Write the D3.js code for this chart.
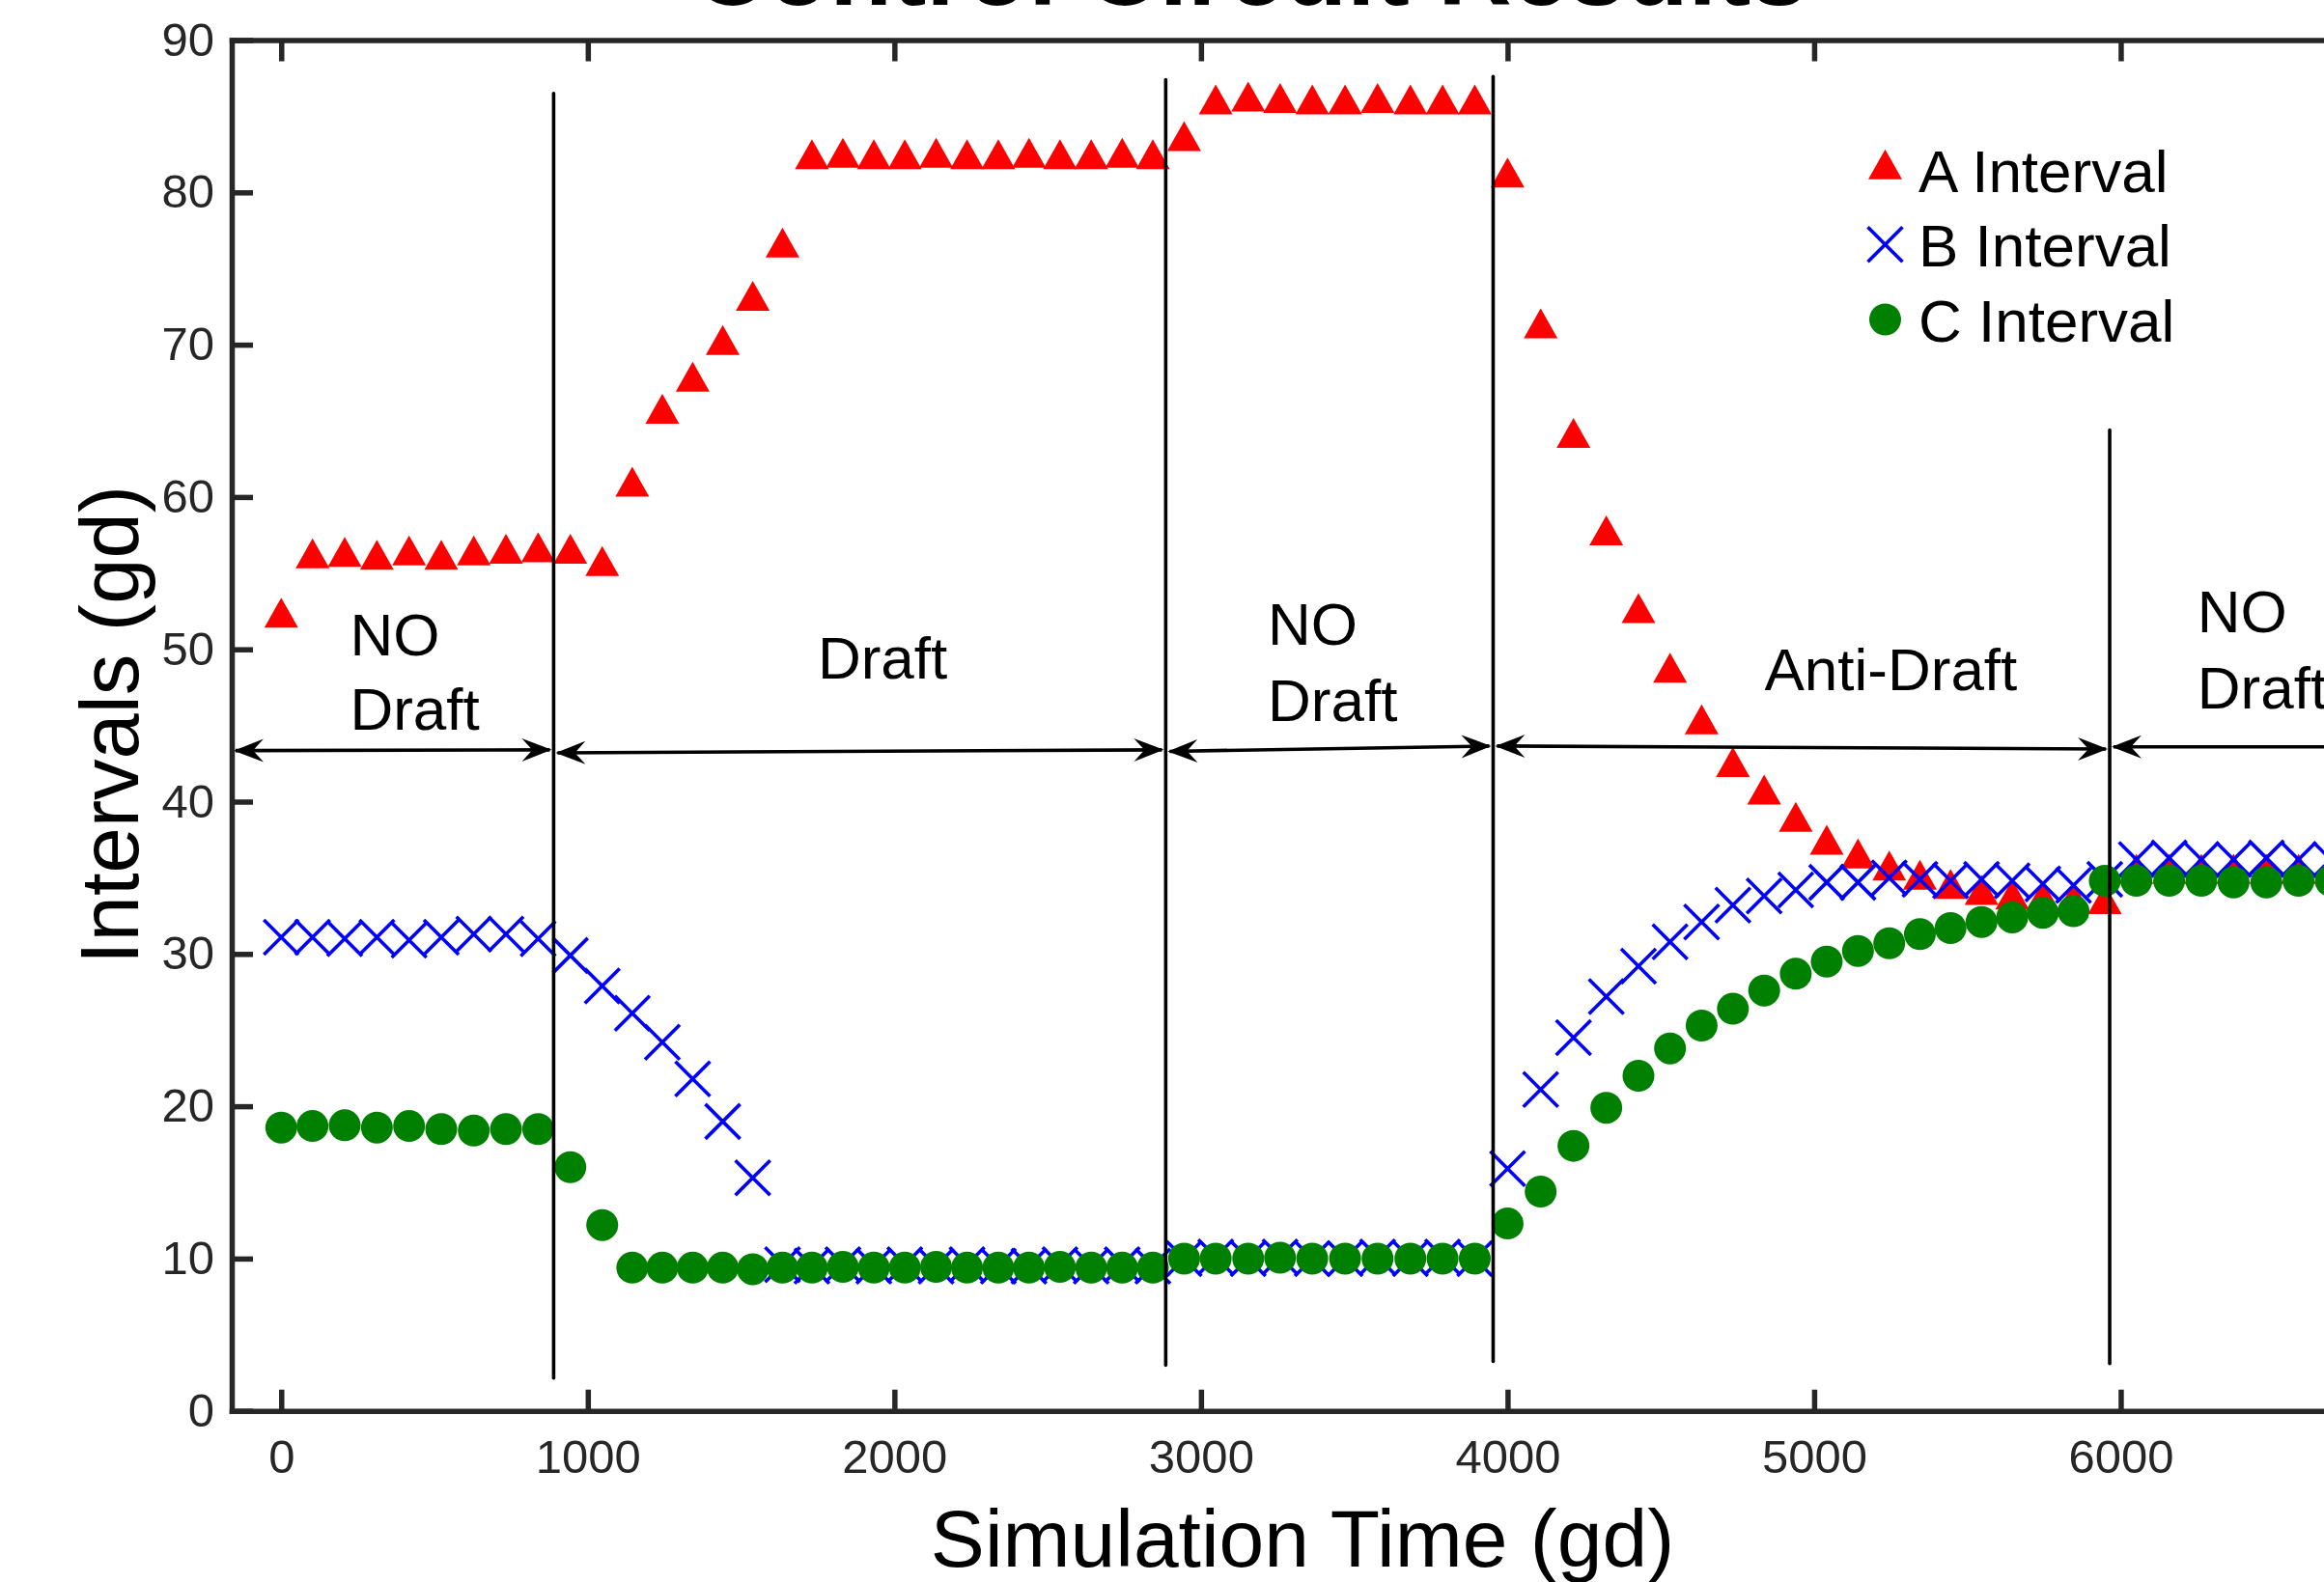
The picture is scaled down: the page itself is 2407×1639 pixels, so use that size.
<!DOCTYPE html>
<html>
<head>
<meta charset="utf-8">
<script src="https://cdn.jsdelivr.net/npm/d3@7"></script>
<style>
  html, body { margin: 0; padding: 0; background: #fff; }
  svg { display: block; }
  text { font-family: "Liberation Sans", Arial, Helvetica, sans-serif; }
</style>
</head>
<body>
<svg id="chart" width="2407" height="1639"></svg>
<script>
// ---------------- data ----------------
const times = [0,102,207,312,417,522,628,733,838,943,1047,1145,1243,1342,1440,1538,1635,1731,1832,1933,
  2034,2136,2237,2339,2439,2540,2642,2743,2843,2945,3048,3154,3258,3363,3470,3576,3683,3788,3893,4000,
  4108,4215,4322,4427,4530,4633,4735,4837,4940,5041,5143,5245,5345,5445,5546,5646,5746,5846,5948,6051,
  6158,6263,6368,6475,6580,6685];

const seriesA = [52.4,56.3,56.4,56.2,56.5,56.2,56.5,56.6,56.7,56.6,55.8,61.0,65.8,67.9,70.3,73.2,76.7,
  82.5,82.6,82.5,82.5,82.6,82.5,82.5,82.6,82.5,82.5,82.6,82.5,83.7,86.1,86.3,86.2,86.1,86.1,86.2,86.1,86.1,86.1,
  81.3,71.4,64.2,57.8,52.7,48.8,45.4,42.6,40.8,39.0,37.5,36.6,35.8,35.2,34.6,34.2,33.9,33.8,33.7,33.6,
  35.6,35.6,35.6,35.6,35.6,35.6,35.6];

const seriesB = [31.1,31.1,31.0,31.1,30.9,31.1,31.3,31.3,31.0,29.9,27.9,26.1,24.2,21.8,19.0,15.3,
  9.6,9.5,9.6,9.5,9.6,9.5,9.6,9.5,9.5,9.6,9.5,9.6,9.5,
  10.0,10.1,10.0,10.1,10.0,10.0,10.1,10.0,10.1,10.0,
  15.9,21.1,24.5,27.2,29.2,30.8,32.1,33.2,33.8,34.2,34.7,34.7,35.0,34.9,34.8,34.9,34.8,34.6,34.5,34.9,
  36.2,36.3,36.2,36.2,36.3,36.2,36.2];

const seriesC = [18.6,18.7,18.75,18.6,18.7,18.5,18.4,18.5,18.5,16.0,12.2,9.4,9.4,9.4,9.4,9.3,
  9.4,9.4,9.45,9.4,9.4,9.45,9.4,9.4,9.4,9.45,9.4,9.4,9.4,
  10.0,10.0,10.0,10.05,10.0,10.0,10.0,10.0,10.0,10.0,
  12.3,14.4,17.4,19.9,22.0,23.8,25.3,26.4,27.6,28.7,29.5,30.2,30.7,31.3,31.7,32.1,32.4,32.7,32.8,34.8,
  34.8,34.8,34.8,34.7,34.7,34.8,34.8];

const seriesNames = ["A Interval", "B Interval", "C Interval"];
const xTicks = [0,1000,2000,3000,4000,5000,6000];
const yTicks = [0,10,20,30,40,50,60,70,80,90];

// phase boundary lines (time, top value, bottom value)
const phaseTimes  = [888.5, 2885, 3953, 5964];
const phaseTops   = [86.5, 87.4, 87.6, 64.4];
const phaseBottoms= [2.15, 3.0, 3.25, 3.1];

// double arrows (start time, end time, start value, end value)
const arrowStart = [-161.5, 888.5, 2885, 3953, 5964];
const arrowEnd   = [888.5, 2885, 3953, 5964, 6835];
const arrowY1    = [43.35, 43.2, 43.3, 43.65, 43.6];
const arrowY2    = [43.4, 43.4, 43.65, 43.45, 43.6];

// phase labels: lines of text, left time, baseline values
const phaseLabelLines = [["NO","Draft"],["Draft"],["NO","Draft"],["Anti-Draft"],["NO","Draft"]];
const phaseLabelX     = [224, 1750, 3218, 4838, 6250];
const phaseLabelY     = [[49.6,44.7],[48.1],[50.3,45.3],[47.3],[51.1,46.1]];

const titleText = "Control Circuit Results";
const xLabel = "Simulation Time (gd)";
const yLabel = "Intervals (gd)";

// ---------------- drawing ----------------
const svg = d3.select("#chart");
svg.append("rect").attr("width", 2407).attr("height", 1639).attr("fill", "#fff");

const x = d3.scaleLinear().domain([-161.5, 6835]).range([240, 2461.6]);
const y = d3.scaleLinear().domain([0, 90]).range([1461.7, 41.5]);

const axisColor = "#262626";

// markers
const triPath = "M0,-15.5L17.5,15.5L-17.5,15.5Z";
const crossPath = "M-18,-18L18,18M18,-18L-18,18";

const gA = svg.append("g");
gA.selectAll("path").data(times).join("path")
  .attr("d", triPath)
  .attr("transform", (t, i) => `translate(${x(t)},${y(seriesA[i])})`)
  .attr("fill", "#ff0000");

const gB = svg.append("g");
gB.selectAll("path").data(times).join("path")
  .attr("d", crossPath)
  .attr("transform", (t, i) => `translate(${x(t)},${y(seriesB[i])})`)
  .attr("fill", "none").attr("stroke", "#0000ff").attr("stroke-width", 3.6);

const gC = svg.append("g");
gC.selectAll("circle").data(times).join("circle")
  .attr("cx", t => x(t))
  .attr("cy", (t, i) => y(seriesC[i]))
  .attr("r", 16.5)
  .attr("fill", "#008000");

// phase lines
const gL = svg.append("g");
gL.selectAll("line").data(phaseTimes).join("line")
  .attr("x1", t => x(t)).attr("x2", t => x(t))
  .attr("y1", (t, i) => y(phaseTops[i])).attr("y2", (t, i) => y(phaseBottoms[i]))
  .attr("stroke", "#000").attr("stroke-width", 3.6).attr("stroke-linecap", "round");

// arrows
const gArr = svg.append("g");
const headPath = "M0,0L-31,-12L-20,0L-31,12Z";
arrowStart.forEach((s, i) => {
  const x1 = x(s), x2 = x(arrowEnd[i]);
  const y1 = y(arrowY1[i]), y2 = y(arrowY2[i]);
  gArr.append("line").attr("x1", x1 + 4).attr("y1", y1).attr("x2", x2 - 4).attr("y2", y2)
    .attr("stroke", "#000").attr("stroke-width", 3.6);
  const ang = Math.atan2(y2 - y1, x2 - x1) * 180 / Math.PI;
  gArr.append("path").attr("d", headPath)
    .attr("transform", `translate(${x2 - 2},${y2}) rotate(${ang})`).attr("fill", "#000");
  gArr.append("path").attr("d", headPath)
    .attr("transform", `translate(${x1 + 2},${y1}) rotate(${ang + 180})`).attr("fill", "#000");
});

// phase labels
const gT = svg.append("g");
phaseLabelLines.forEach((lines, i) => {
  lines.forEach((txt, j) => {
    gT.append("text").attr("x", x(phaseLabelX[i])).attr("y", y(phaseLabelY[i][j]))
      .attr("font-size", 62).attr("fill", "#000").text(txt);
  });
});

// axes
function styleAxis(g) {
  g.select(".domain").attr("stroke", axisColor).attr("stroke-width", 5.5).attr("stroke-linecap", "square");
  g.selectAll(".tick line").attr("stroke", axisColor).attr("stroke-width", 5.5);
  g.selectAll(".tick text").attr("fill", axisColor).attr("font-size", 49)
    .attr("font-family", '"Liberation Sans", Arial, Helvetica, sans-serif');
}

const gx = svg.append("g").attr("transform", "translate(0,1461.7)")
  .call(d3.axisBottom(x).tickValues(xTicks).tickSize(-22).tickSizeOuter(0).tickPadding(29.5).tickFormat(d3.format("d")));
styleAxis(gx);

const gxt = svg.append("g").attr("transform", "translate(0,41.5)")
  .call(d3.axisTop(x).tickValues(xTicks).tickSize(-22).tickSizeOuter(0).tickFormat(""));
styleAxis(gxt);

const gy = svg.append("g").attr("transform", "translate(240,0)")
  .call(d3.axisLeft(y).tickValues(yTicks).tickSize(-22).tickSizeOuter(0).tickPadding(18).tickFormat(d3.format("d")));
styleAxis(gy);

// axis labels
svg.append("text").attr("x", 1349).attr("y", 1623).attr("text-anchor", "middle")
  .attr("font-size", 84).attr("fill", "#000").text(xLabel);
svg.append("text").attr("transform", "translate(143,751) rotate(-90)").attr("text-anchor", "middle")
  .attr("font-size", 85).attr("fill", "#000").text(yLabel);

// title (partially cut off at top, as in the reference)
svg.append("text").attr("x", 1295).attr("y", 5).attr("text-anchor", "middle")
  .attr("font-size", 106).attr("font-weight", "bold").attr("fill", "#000").text(titleText);

// legend
const legendMarkerY = [170.3, 253.3, 331];
const legendTextY = [199, 276, 354.3];
const gLeg = svg.append("g");
seriesNames.forEach((name, i) => {
  const mx = 1952.5, my = legendMarkerY[i];
  if (i === 0) {
    gLeg.append("path").attr("d", triPath).attr("transform", `translate(${mx},${my})`).attr("fill", "#ff0000");
  } else if (i === 1) {
    gLeg.append("path").attr("d", crossPath).attr("transform", `translate(${mx},${my})`)
      .attr("fill", "none").attr("stroke", "#0000ff").attr("stroke-width", 3.6);
  } else {
    gLeg.append("circle").attr("cx", mx).attr("cy", my).attr("r", 16.5).attr("fill", "#008000");
  }
  gLeg.append("text").attr("x", 1987).attr("y", legendTextY[i]).attr("font-size", 62)
    .attr("fill", "#000").text(name);
});
</script>
</body>
</html>
